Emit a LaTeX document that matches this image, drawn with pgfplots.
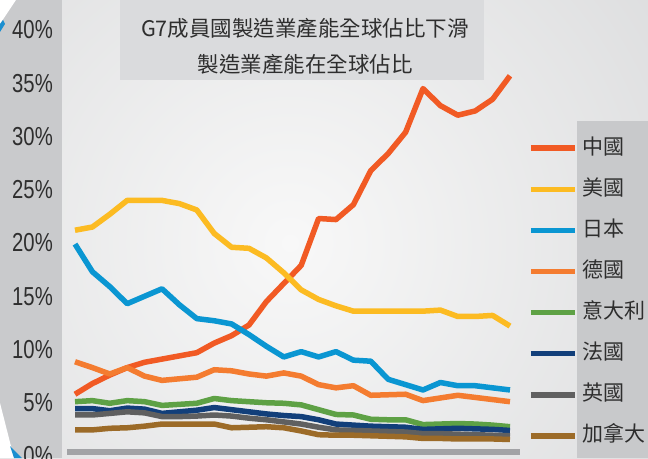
\documentclass[border=0pt]{standalone}
\usepackage{pgfplots}
\usepackage{pgfplotstable}
\pgfplotsset{compat=1.18}
\usepackage{fontspec}
\setmainfont{Liberation Sans}
\newfontfamily\cjk{Noto Sans CJK TC}
\newfontfamily\narrow[FakeStretch=0.78]{Liberation Sans}
\definecolor{cn}{HTML}{F15A24}
\definecolor{us}{HTML}{FCBB22}
\definecolor{jp}{HTML}{0A96D2}
\definecolor{de}{HTML}{F47C30}
\definecolor{it}{HTML}{5EA145}
\definecolor{fr}{HTML}{123F7A}
\definecolor{uk}{HTML}{606060}
\definecolor{ca}{HTML}{9C6B28}
\definecolor{labelc}{HTML}{2E2E2E}
\definecolor{strip}{HTML}{C9CACC}
\definecolor{bgin}{HTML}{F8F8F8}
\definecolor{bgout}{HTML}{CBCCCE}
\definecolor{titlebox}{HTML}{DADBDD}
\definecolor{legbox}{HTML}{C8C9CB}
\definecolor{basebar}{HTML}{A2A3A6}
\definecolor{deco}{HTML}{1B8FD0}

\pgfplotstableread{
i cn us jp de it fr uk ca
0 5.8 21.2 19.9 8.85 5.1 4.45 3.85 2.45
1 6.8 21.5 17.3 8.3 5.2 4.45 3.85 2.45
2 7.6 22.7 15.9 7.7 4.95 4.25 4.0 2.6
3 8.3 24.0 14.3 8.3 5.2 4.5 4.15 2.65
4 8.8 24.0 15.0 7.5 5.1 4.4 4.05 2.8
5 9.1 24.0 15.7 7.1 4.75 4.0 3.7 3.0
6 9.4 23.7 14.2 7.25 4.85 4.15 3.7 3.0
7 9.7 23.1 12.9 7.4 4.95 4.3 3.75 3.0
8 10.6 20.9 12.7 8.1 5.4 4.55 3.85 3.0
9 11.3 19.6 12.4 8.0 5.2 4.35 3.75 2.65
10 12.3 19.5 11.4 7.7 5.1 4.15 3.55 2.7
11 14.5 18.6 10.3 7.5 5.0 3.95 3.4 2.75
12 16.2 17.2 9.3 7.8 4.95 3.8 3.2 2.65
13 17.9 15.6 9.8 7.5 4.8 3.7 3.0 2.35
14 22.3 14.7 9.3 6.7 4.35 3.4 2.7 2.0
15 22.2 14.1 9.8 6.4 3.9 3.0 2.45 1.95
16 23.6 13.6 9.0 6.6 3.85 2.9 2.4 1.95
17 26.8 13.6 8.9 5.7 3.45 2.8 2.35 1.9
18 28.4 13.6 7.2 5.75 3.4 2.75 2.3 1.85
19 30.4 13.6 6.7 5.8 3.4 2.7 2.25 1.8
20 34.5 13.6 6.2 5.2 2.95 2.5 2.1 1.65
21 32.9 13.7 6.9 5.45 3.0 2.55 2.1 1.65
22 32.0 13.1 6.6 5.7 3.05 2.6 2.05 1.6
23 32.4 13.1 6.6 5.5 3.0 2.55 2.0 1.6
24 33.5 13.2 6.4 5.3 2.9 2.5 1.95 1.6
25 35.7 12.2 6.2 5.1 2.75 2.4 1.9 1.55
}\data

\begin{document}
\begin{tikzpicture}[x=1pt,y=1pt]
\clip (0,0) rectangle (648,458);
\fill[bgout] (0,0) rectangle (648,458);
\shade[inner color=bgin, outer color=bgout] (290,215) circle (760);
\fill[strip] (0,0) rectangle (62,458);
% decorative corners
\fill[white] (0,458) -- (16,458) -- (0,434) -- cycle;
\fill[deco] (0,434) -- (3,438) -- (5,434) -- (0,426) -- cycle;
\fill[white] (0,55) -- (0,0) -- (14,0) -- cycle;
\fill[deco] (10,12) -- (14,0) -- (22,0) -- cycle;
\fill[titlebox] (120,378) rectangle (484,458);
\fill[legbox] (577,0) rectangle (648,337);
\fill[basebar] (67,3) rectangle (520,9);
\node[font=\cjk\fontsize{21.5}{21.5}\selectfont, text=labelc] at (305,429.5) {G7成員國製造業產能全球佔比下滑};
\node[font=\cjk\fontsize{21.5}{21.5}\selectfont, text=labelc] at (305,393.5) {製造業產能在全球佔比};
\begin{axis}[
  at={(75pt,2pt)}, anchor=south west,
  scale only axis, width=435pt, height=426pt,
  xmin=0, xmax=25, ymin=0, ymax=40,
  clip=false,
  axis line style={draw=none},
  major tick length=0pt,
  xtick=\empty,
  ytick={0,5,...,40},
  yticklabels={0\%,5\%,10\%,15\%,20\%,25\%,30\%,35\%,40\%},
  yticklabel style={font=\narrow\fontsize{26}{26}\selectfont, text=labelc, anchor=east, inner sep=0pt, xshift=-22pt},
  legend cell align=left,
  legend image code/.code={\draw[#1] (0pt,0pt) -- (44pt,0pt);},
  legend style={at={(1.0414,0.7465)}, anchor=north west, draw=none, fill=none,
    inner sep=0pt, row sep=21.1pt, column sep=5pt,
    nodes={inner sep=0pt, anchor=west, font=\cjk\fontsize{21}{21}\selectfont, text=labelc, text height=16pt, text depth=4pt}},
  every axis plot/.append style={line width=5.5pt, line join=round, mark=none},
]
\addplot[cn] table[x=i,y=cn] {\data};
\addlegendentry{中國}
\addplot[us] table[x=i,y=us] {\data};
\addlegendentry{美國}
\addplot[jp] table[x=i,y=jp] {\data};
\addlegendentry{日本}
\addplot[de] table[x=i,y=de] {\data};
\addlegendentry{德國}
\addplot[it] table[x=i,y=it] {\data};
\addlegendentry{意大利}
\addplot[fr] table[x=i,y=fr] {\data};
\addlegendentry{法國}
\addplot[uk] table[x=i,y=uk] {\data};
\addlegendentry{英國}
\addplot[ca] table[x=i,y=ca] {\data};
\addlegendentry{加拿大}
\end{axis}
\end{tikzpicture}
\end{document}
